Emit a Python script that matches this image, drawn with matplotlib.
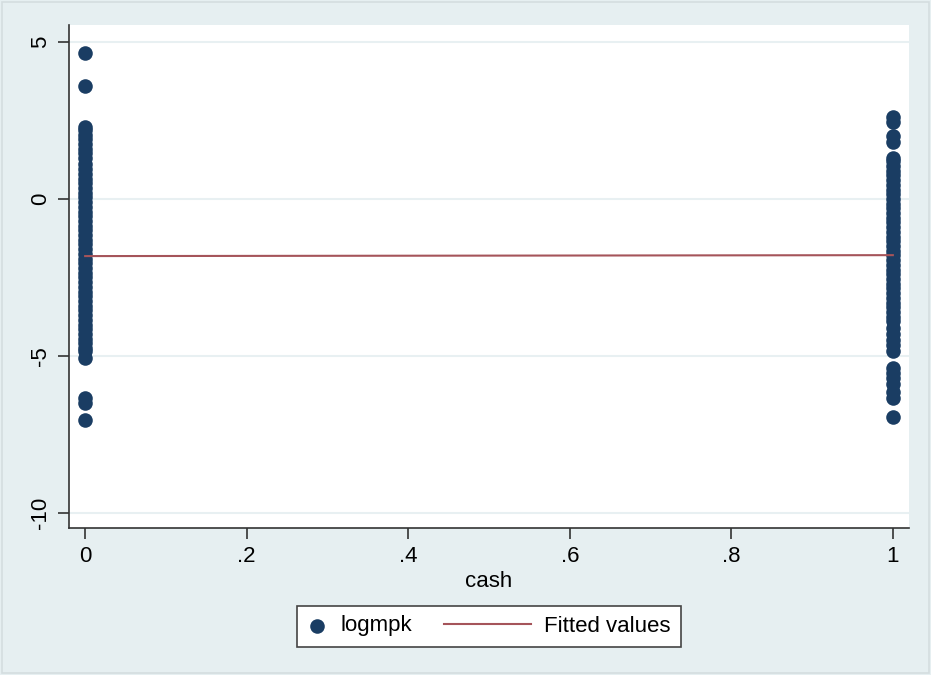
import numpy as np
import matplotlib.pyplot as plt
from matplotlib.patches import Rectangle
from matplotlib.legend_handler import HandlerLine2D

plt.rcParams['font.family'] = ['Liberation Sans', 'DejaVu Sans']

# logmpk values (cash = 0 and cash = 1)
logmpk_cash0 = [4.65, 3.6, 2.3, 2.2, 2.05, 1.9, 1.75, 1.6, 1.45, 1.3, 1.1, 0.95,
                0.8, 0.65, 0.5, 0.35, 0.2, 0.05, -0.1, -0.25, -0.4, -0.55, -0.7,
                -0.85, -1.0, -1.15, -1.3, -1.45, -1.6, -1.75, -1.9, -2.05, -2.2,
                -2.35, -2.5, -2.65, -2.8, -2.95, -3.1, -3.25, -3.4, -3.55, -3.7,
                -3.85, -4.0, -4.15, -4.3, -4.45, -4.6, -4.75, -4.85, -5.05,
                -6.35, -6.5, -7.05]
logmpk_cash1 = [2.6, 2.45, 2.0, 1.8, 1.3, 1.2, 1.05, 0.9, 0.75, 0.6, 0.45, 0.3,
                0.15, 0.0, -0.15, -0.3, -0.45, -0.6, -0.75, -0.9, -1.05, -1.2,
                -1.35, -1.5, -1.65, -1.8, -1.95, -2.1, -2.25, -2.4, -2.55, -2.7,
                -2.85, -3.0, -3.15, -3.3, -3.45, -3.6, -3.75, -3.9, -4.1, -4.3,
                -4.5, -4.65, -4.85, -5.4, -5.55, -5.7, -5.9, -6.15, -6.35, -6.95]
fit_x = [0, 1]
fit_y = [-1.82, -1.79]

xticks = [0, 0.2, 0.4, 0.6, 0.8, 1]
xticklabels = ['0', '.2', '.4', '.6', '.8', '1']
yticks = [-10, -5, 0, 5]

bg = '#e6eff1'
navy = '#1a3d63'
maroon = '#a5545a'


class LongLine(HandlerLine2D):
    # legend line that reaches further left than the handle box
    def get_xdata(self, legend, xdescent, ydescent, width, height, fontsize):
        xdata, xm = super().get_xdata(legend, xdescent, ydescent, width, height, fontsize)
        return np.array([-xdescent - 3.0 * fontsize, -xdescent + width]), xm


fig = plt.figure(figsize=(9.31, 6.75), dpi=100, facecolor=bg)
fig.patches.append(Rectangle((0.002, 0.003), 0.996, 0.994, transform=fig.transFigure,
                             facecolor='none', edgecolor='#d4dde0', lw=1.2))
ax = fig.add_axes([69/931, 1-528/675, 840/931, 503/675])
ax.set_facecolor('white')

ax.scatter([0]*len(logmpk_cash0), logmpk_cash0, s=110, color=navy, zorder=3,
           linewidths=0, label='logmpk')
ax.scatter([1]*len(logmpk_cash1), logmpk_cash1, s=110, color=navy, zorder=3,
           linewidths=0)
fit_line, = ax.plot(fit_x, fit_y, color=maroon, lw=1.5, zorder=4, label='Fitted values')

ax.set_xlim(-0.02, 1.02)
ax.set_ylim(-10.48, 5.54)
ax.set_xticks(xticks)
ax.set_xticklabels(xticklabels)
ax.set_yticks(yticks)
ax.set_yticklabels([str(t) for t in yticks], rotation=90, va='center')
ax.tick_params(axis='both', direction='out', length=8, width=1.2, color='#333333',
               labelsize=16, pad=5)
ax.grid(axis='y', color='#e8f0f2', lw=1.5)
ax.set_axisbelow(True)
for s in ['top', 'right']:
    ax.spines[s].set_visible(False)
for s in ['left', 'bottom']:
    ax.spines[s].set_color('#333333')
    ax.spines[s].set_linewidth(1.2)
ax.set_xlabel('cash', fontsize=16, labelpad=3)

leg = fig.legend(loc='center', bbox_to_anchor=(489/931, 1-626/675), ncol=2,
                 fontsize=16, frameon=True, fancybox=False, edgecolor='#444444',
                 framealpha=1, handlelength=0.9, columnspacing=4.45,
                 handletextpad=0.6, borderpad=0.45, borderaxespad=0,
                 handler_map={fit_line: LongLine()})
leg.get_frame().set_linewidth(1.2)

fig.savefig('out.png', dpi=100, facecolor=bg)
